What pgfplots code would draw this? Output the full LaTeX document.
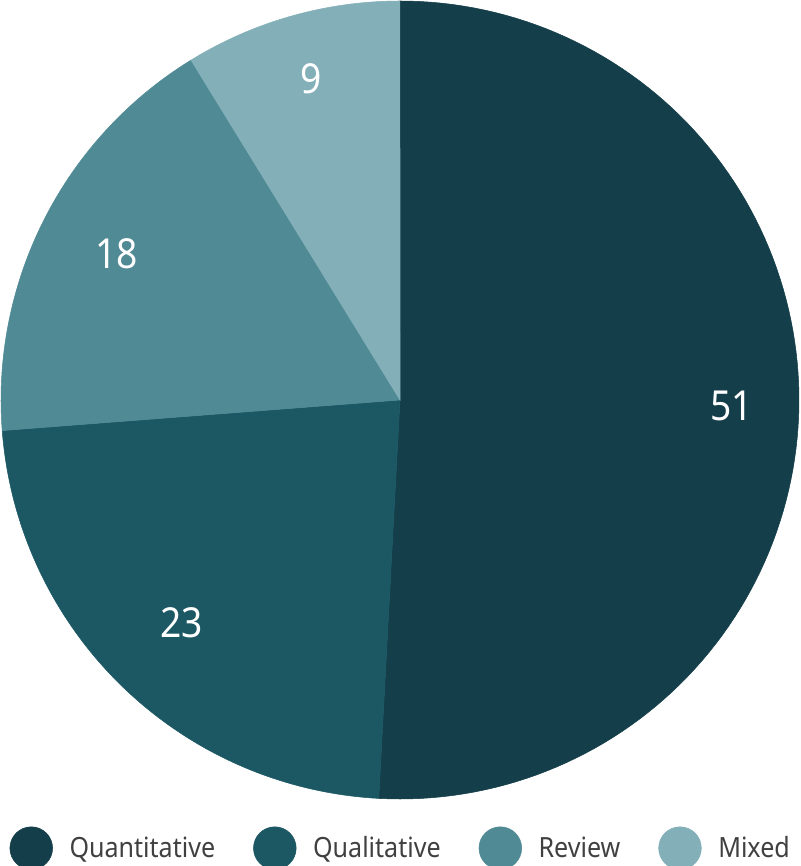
\documentclass[border=0pt]{standalone}
\usepackage{pgfplots}
\pgfplotsset{compat=1.18}
\usepackage{pgfplotstable}
\usepackage{fontspec}
\setmainfont[FakeStretch=0.9]{Noto Sans}

\definecolor{cQuant}{HTML}{143E49}
\definecolor{cQual}{HTML}{1B5864}
\definecolor{cRev}{HTML}{508A95}
\definecolor{cMix}{HTML}{83AFB8}
\definecolor{legtext}{HTML}{404040}

% slice values (clockwise from 12 o'clock); labels are the rounded values
\pgfplotstableread{
label        value shown
Quantitative 51    51
Qualitative  23    23
Review       17.5  18
Mixed        8.8   9
}\piedata

\pgfplotstablegetelem{0}{value}\of\piedata \let\vA\pgfplotsretval
\pgfplotstablegetelem{1}{value}\of\piedata \let\vB\pgfplotsretval
\pgfplotstablegetelem{2}{value}\of\piedata \let\vC\pgfplotsretval
\pgfplotstablegetelem{3}{value}\of\piedata \let\vD\pgfplotsretval
\pgfmathsetmacro\tot{\vA+\vB+\vC+\vD}
% cumulative angles, starting at 90 and going clockwise
\pgfmathsetmacro\aA{90-\vA/\tot*360}
\pgfmathsetmacro\aB{\aA-\vB/\tot*360}
\pgfmathsetmacro\aC{\aB-\vC/\tot*360}
\pgfmathsetmacro\aD{\aC-\vD/\tot*360}

\begin{document}
\begin{tikzpicture}
\begin{axis}[
    name=pie,
    hide axis,
    scale only axis,
    width=598.5pt, height=598.5pt,
    xmin=-1, xmax=1, ymin=-1, ymax=1,
    clip=false,
    legend columns=4,
    legend style={
        at={(axis description cs:0.0105,-0.0616)}, anchor=west,
        draw=none, fill=none, inner sep=0pt,
        nodes={inner sep=0pt, text=legtext, font=\fontsize{20.9}{24}\selectfont},
        /tikz/every odd column/.append style={column sep=12.5pt},
        /tikz/every even column/.append style={column sep=28.5pt},
    },
    legend image code/.code={\fill[#1] (16pt,0pt) circle (16pt);},
]

% wedges
\addplot[fill=cQuant, draw=cQuant, line width=0.4pt, domain=\aA:90, samples=120, variable=\t]
    ({cos(\t)},{sin(\t)}) -- (0,0) -- cycle;
\addlegendentry{Quantitative}
\addplot[fill=cQual, draw=cQual, line width=0.4pt, domain=\aB:\aA, samples=80, variable=\t]
    ({cos(\t)},{sin(\t)}) -- (0,0) -- cycle;
\addlegendentry{Qualitative}
\addplot[fill=cRev, draw=cRev, line width=0.4pt, domain=\aC:\aB, samples=60, variable=\t]
    ({cos(\t)},{sin(\t)}) -- (0,0) -- cycle;
\addlegendentry{Review}
\addplot[fill=cMix, draw=cMix, line width=0.4pt, domain=\aD:\aC, samples=40, variable=\t]
    ({cos(\t)},{sin(\t)}) -- (0,0) -- cycle;
\addlegendentry{Mixed}

% value labels
\begin{scope}[every node/.style={text=white, font=\fontsize{31}{36}\selectfont, inner sep=0pt}]
\node at (axis cs:0.832,-0.015) {51};
\node at (axis cs:-0.548,-0.558) {23};
\node at (axis cs:-0.711,0.367) {18};
\node at (axis cs:-0.222,0.805) {9};
\end{scope}
\end{axis}
\pgfresetboundingbox
\path[use as bounding box] ([xshift=-0.75pt,yshift=-50.25pt]pie.south west) rectangle ([xshift=0.75pt,yshift=0.75pt]pie.north east);
\end{tikzpicture}
\end{document}
